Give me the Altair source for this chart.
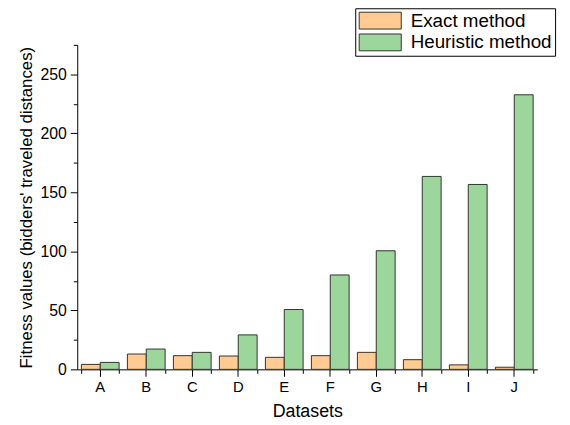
import altair as alt
import pandas as pd

datasets = ["A", "B", "C", "D", "E", "F", "G", "H", "I", "J"]
exact = [4.2, 13.0, 11.6, 11.3, 10.2, 11.6, 14.4, 8.2, 3.8, 1.8]
heuristic = [5.9, 17.2, 14.4, 29.2, 50.7, 80.0, 100.5, 163.5, 156.7, 232.7]
methods = ["Exact method", "Heuristic method"]
colors = ["#FFCB92", "#9DD69A"]
y_major = [0, 50, 100, 150, 200, 250]
y_minor = [25, 75, 125, 175, 225, 275]

rows = []
for d, e, h in zip(datasets, exact, heuristic):
    rows.append({"Dataset": d, "Method": methods[0], "Value": e})
    rows.append({"Dataset": d, "Method": methods[1], "Value": h})
df = pd.DataFrame(rows)

font = "Liberation Sans"
xscale = alt.Scale(domain=datasets, paddingInner=0.18, paddingOuter=0.09)
yscale = alt.Scale(domain=[0, 275], nice=False)

bars = alt.Chart(df).mark_bar(stroke="#333333", strokeWidth=1).encode(
    x=alt.X("Dataset:N", scale=xscale, sort=datasets,
            axis=alt.Axis(title="Datasets", labelAngle=0, tickSize=7, labelPadding=3,
                          labelFontSize=15, titleFontSize=18, titleFontWeight="normal",
                          titlePadding=9, domainColor="black", tickColor="black",
                          labelColor="black", titleColor="black", labelFont=font,
                          titleFont=font, grid=False)),
    xOffset=alt.XOffset("Method:N", sort=methods),
    y=alt.Y("Value:Q", scale=yscale,
            axis=alt.Axis(title="Fitness values (bidders' traveled distances)", values=y_major,
                          tickSize=7, labelPadding=4, labelFontSize=16, titleFontSize=17,
                          titleFontWeight="normal", titlePadding=5, domainColor="black",
                          tickColor="black", labelColor="black", titleColor="black",
                          labelFont=font, titleFont=font, grid=False)),
    color=alt.Color("Method:N", scale=alt.Scale(domain=methods, range=colors),
                    legend=alt.Legend(title=None, orient="none", legendX=281, legendY=-37,
                                      strokeColor="black", fillColor="white", padding=3,
                                      symbolType="M-1,-1H4V1H-1Z", symbolSize=289,
                                      symbolStrokeColor="#333333", symbolStrokeWidth=1,
                                      symbolOpacity=1, labelFontSize=19, labelFont=font,
                                      labelColor="black", rowPadding=1, labelOffset=34)),
)

minor = alt.Chart(df).mark_point(opacity=0).encode(
    x=alt.X("Dataset:N", sort=datasets,
            axis=alt.Axis(title=None, tickBand="extent", labels=False, domain=False,
                          tickSize=4, orient="bottom", tickColor="black", grid=False)),
    y=alt.Y("Value:Q",
            axis=alt.Axis(title=None, values=y_minor, labels=False, domain=False,
                          tickSize=4, orient="left", tickColor="black", grid=False)),
)

chart = alt.layer(bars, minor).resolve_axis(x="independent", y="independent").properties(
    width=465, height=328,
    autosize=alt.AutoSizeParams(type="none"),
    padding={"left": 70, "top": 35, "right": 25, "bottom": 56},
).configure_view(strokeWidth=0)

chart.save("out.html", embed_options={"renderer": "svg", "actions": False})
